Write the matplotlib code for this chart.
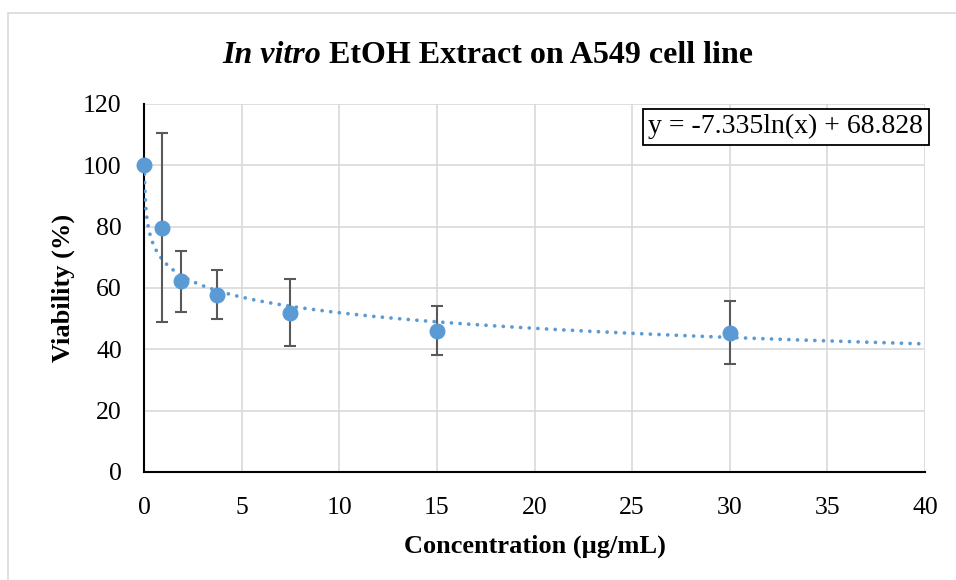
import numpy as np
import matplotlib
matplotlib.use("Agg")
import matplotlib.pyplot as plt
from matplotlib.patches import Rectangle

plt.rcParams['font.family'] = ['Liberation Serif', 'DejaVu Serif']

# Viability of A549 cells against extract concentration
conc = [0, 0.9375, 1.875, 3.75, 7.5, 15, 30]
viability = [100, 79.7, 62.2, 57.8, 52.0, 46.0, 45.4]
err = [0, 30.8, 10.0, 8.0, 11.0, 8.0, 10.3]

# log trendline y = a ln(x) + b
a, b = -7.335, 68.828

xticks = [0, 5, 10, 15, 20, 25, 30, 35, 40]
yticks = [0, 20, 40, 60, 80, 100, 120]

blue = '#5B9BD5'
grid = '#D9D9D9'

fig = plt.figure(figsize=(9.56, 5.8), dpi=100)
W, H = 956, 580

# light chart-area border
fig.patches.append(Rectangle((8 / W, -0.1), 1.1, (H - 13) / H + 0.1,
                             transform=fig.transFigure, fill=False,
                             edgecolor=grid, linewidth=1.2))

ax = fig.add_axes([144 / W, (H - 472) / H, (925 - 144) / W, (472 - 104) / H])

xs = np.geomspace(np.exp((100 - b) / a), 40, 500)
ax.plot(xs, a * np.log(xs) + b, color=blue, linewidth=2.7,
        linestyle=(0, (0.01, 2.3)), dash_capstyle='round', zorder=3)

eb = ax.errorbar(conc, viability, yerr=err, fmt='o', color=blue, markersize=10.5,
                 ecolor='#595959', elinewidth=1.5, capsize=4.5, capthick=1.5,
                 zorder=4)
eb[0].set_clip_on(False)

ax.set_xlim(0, 40)
ax.set_ylim(0, 120)
ax.set_xticks(xticks)
ax.set_yticks(yticks)
ax.grid(True, color=grid, linewidth=1.2)
ax.set_axisbelow(True)
for s in ['top', 'right']:
    ax.spines[s].set_visible(False)
for s in ['left', 'bottom']:
    ax.spines[s].set_color('black')
    ax.spines[s].set_linewidth(1.5)
ax.tick_params(length=0, labelsize=18.5)
ax.tick_params(axis='x', pad=18)
ax.tick_params(axis='y', pad=16)

ax.set_xlabel('Concentration (µg/mL)', fontsize=19, fontweight='bold', labelpad=11)
ax.set_ylabel('Viability (%)', fontsize=19, fontweight='bold', labelpad=6)

ax.text(0.9975, 0.972, 'y = -7.335ln(x) + 68.828', transform=ax.transAxes,
        ha='right', va='top', fontsize=20,
        bbox=dict(boxstyle='square,pad=0.2', facecolor='white',
                  edgecolor='black', linewidth=1.3))

# title: italic part followed by bold part, centred as one line
fig.canvas.draw()
r = fig.canvas.get_renderer()
t1 = fig.text(0, 0, 'In vitro', fontsize=23, fontweight='bold', fontstyle='italic')
t2 = fig.text(0, 0, ' EtOH Extract on A549 cell line', fontsize=23, fontweight='bold')
w1 = t1.get_window_extent(r).width
w2 = t2.get_window_extent(r).width
cx = 488
y0 = 1 - 63 / H
x0 = cx - (w1 + w2) / 2
t1.set_position((x0 / W, y0))
t2.set_position(((x0 + w1) / W, y0))

fig.savefig('out.png', dpi=100)
